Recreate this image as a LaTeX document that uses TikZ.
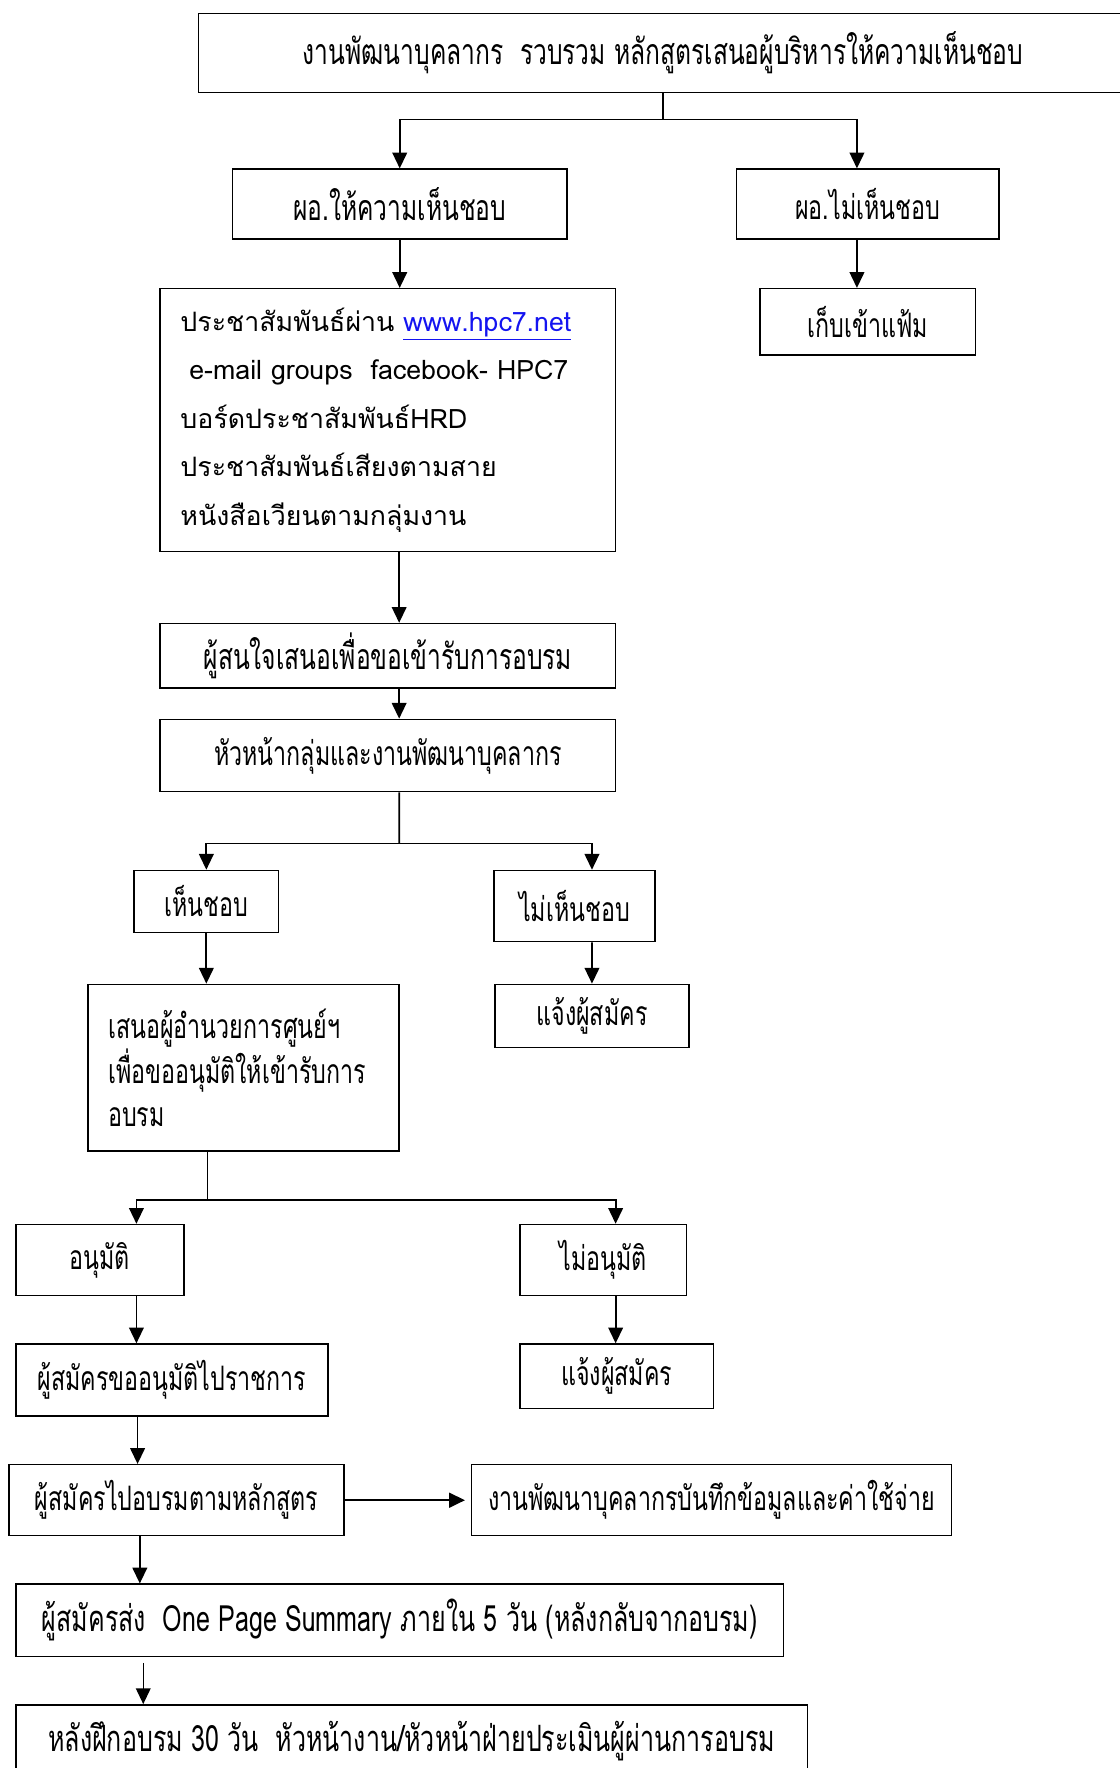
\documentclass[tikz,border=0pt]{standalone}
\usepackage{fontspec}
\usepackage{xcolor}
\usepackage{tikz}
\usetikzlibrary{arrows.meta}
\newfontfamily\thainarrow[Script=Thai,FakeStretch=0.69]{Loma}
\newfontfamily\thaiwide[Script=Thai]{Loma}
\definecolor{linkblue}{RGB}{20,20,240}

\begin{document}
\begin{tikzpicture}[
    x=0.02cm, y=-0.02cm,
    block/.style={
      rectangle,
      draw=black,
      line width=0.75pt,
      align=center,
      inner sep=0pt,
      font=\thainarrow\fontsize{17}{20}\selectfont
    },
    bigtext/.style={font=\thainarrow\fontsize{18}{20}\selectfont},
    longtext/.style={font=\thainarrow\fontsize{18.3}{20}\selectfont},
    textblock/.style={
      block,
      align=left,
      font=\thaiwide\fontsize{13.5}{24.5}\selectfont
    },
    line/.style={-{Triangle[length=2.8mm, width=2.6mm]}, line width=0.9pt},
    plain/.style={line width=0.9pt}
  ]
    \useasboundingbox (0,0) rectangle (993,1568);

    \node[block, bigtext, minimum width=16.48cm, minimum height=1.4cm] (collect) at (588,47) {งานพัฒนาบุคลากร~ รวบรวม หลักสูตรเสนอผู้บริหารให้ความเห็นชอบ};
    \node[block, bigtext, minimum width=5.94cm, minimum height=1.24cm] (dirok) at (354.5,181) {ผอ.ให้ความเห็นชอบ};
    \node[block, minimum width=4.66cm, minimum height=1.24cm] (dirno) at (769.5,181) {ผอ.ไม่เห็นชอบ};
    \node[block, minimum width=3.82cm, minimum height=1.18cm] (filing) at (769.5,285.5) {เก็บเข้าแฟ้ม};
    \node[textblock, minimum width=8.08cm, minimum height=4.66cm, text width=7.36cm] (publicize) at (344,372.5) {ประชาสัมพันธ์ผ่าน \textcolor{linkblue}{\underline{www.hpc7.net}}\\
      ~e-mail groups~ facebook- HPC7\\
      บอร์ดประชาสัมพันธ์HRD\\
      ประชาสัมพันธ์เสียงตามสาย\\
      หนังสือเวียนตามกลุ่มงาน};
    \node[block, bigtext, minimum width=8.08cm, minimum height=1.14cm] (apply) at (344,581.5) {ผู้สนใจเสนอเพื่อขอเข้ารับการอบรม};
    \node[block, minimum width=8.08cm, minimum height=1.28cm] (heads) at (344,670) {หัวหน้ากลุ่มและงานพัฒนาบุคลากร};
    \node[block, minimum width=2.56cm, minimum height=1.1cm] (agree) at (183,799.5) {เห็นชอบ};
    \node[block, minimum width=2.86cm, minimum height=1.26cm] (disagree) at (509.5,803.5) {ไม่เห็นชอบ};
    \node[block, align=left, minimum width=5.52cm, minimum height=2.96cm, text width=4.8cm, font=\thainarrow\fontsize{17}{21.6}\selectfont] (propose) at (216,947) {เสนอผู้อำนวยการศูนย์ฯ\\
      เพื่อขออนุมัติให้เข้ารับการ\\
      อบรม};
    \node[block, minimum width=3.44cm, minimum height=1.12cm] (notifya) at (525,901) {แจ้งผู้สมัคร};
    \node[block, minimum width=2.98cm, minimum height=1.26cm] (approved) at (88.5,1117.5) {อนุมัติ};
    \node[block, minimum width=2.96cm, minimum height=1.26cm] (denied) at (535,1117.5) {ไม่อนุมัติ};
    \node[block, minimum width=5.54cm, minimum height=1.28cm] (leave) at (152.5,1224) {ผู้สมัครขออนุมัติไปราชการ};
    \node[block, minimum width=3.44cm, minimum height=1.14cm] (notifyb) at (547,1220.5) {แจ้งผู้สมัคร};
    \node[block, minimum width=5.94cm, minimum height=1.26cm] (attend) at (156.5,1330.5) {ผู้สมัครไปอบรมตามหลักสูตร};
    \node[block, minimum width=8.52cm, minimum height=1.26cm] (record) at (631,1330.5) {งานพัฒนาบุคลากรบันทึกข้อมูลและค่าใช้จ่าย};
    \node[block, longtext, minimum width=13.62cm, minimum height=1.28cm] (summary) at (354.5,1437) {ผู้สมัครส่ง~ One Page Summary ภายใน 5 วัน (หลังกลับจากอบรม)};
    \node[block, longtext, minimum width=14.04cm, minimum height=1.28cm] (evaluate) at (365,1544) {หลังฝึกอบรม 30 วัน~ หัวหน้างาน/หัวหน้าฝ่ายประเมินผู้ผ่านการอบรม};

    \coordinate (splitA) at (588,106);
    \coordinate (splitB) at (354,748);
    \coordinate (splitC) at (184,1064);

    \draw[plain] (collect.south) -- (splitA);
    \draw[line] (splitA) -| (dirok.north);
    \draw[line] (splitA) -| ([xshift=-0.19cm]dirno.north);
    \draw[line] (dirok.south) -- (dirok.south |- publicize.north);
    \draw[line] ([xshift=-0.19cm]dirno.south) -- ([xshift=-0.19cm]filing.north);
    \draw[line] ([xshift=0.2cm]publicize.south) -- ([xshift=0.2cm]apply.north);
    \draw[line] ([xshift=0.2cm]apply.south) -- ([xshift=0.2cm]heads.north);
    \draw[plain] ([xshift=0.2cm]heads.south) -- (splitB);
    \draw[line] (splitB) -| (agree.north);
    \draw[line] (splitB) -| ([xshift=0.31cm]disagree.north);
    \draw[line] (agree.south) -- (agree.south |- propose.north);
    \draw[line] ([xshift=0.31cm]disagree.south) -- (notifya.north);
    \draw[plain] (splitC |- propose.south) -- (splitC);
    \draw[line] (splitC) -| ([xshift=0.65cm]approved.north);
    \draw[line] (splitC) -| ([xshift=0.22cm]denied.north);
    \draw[line] ([xshift=0.65cm]approved.south) coordinate (ap) -- (ap |- leave.north);
    \draw[line] ([xshift=0.22cm]denied.south) coordinate (dn) -- (dn |- notifyb.north);
    \draw[line] ([xshift=-0.61cm]leave.south) coordinate (lv) -- (lv |- attend.north);
    \draw[line, line width=1.2pt, shorten >=0.1cm] (attend.east) -- (record.west);
    \draw[line] ([xshift=-0.65cm]attend.south) coordinate (at) -- (at |- summary.north);
    \draw[line, line width=0.7pt, shorten <=0.1cm] ([xshift=-4.55cm]summary.south) coordinate (sm) -- (sm |- evaluate.north);
  \end{tikzpicture}
\end{document}
